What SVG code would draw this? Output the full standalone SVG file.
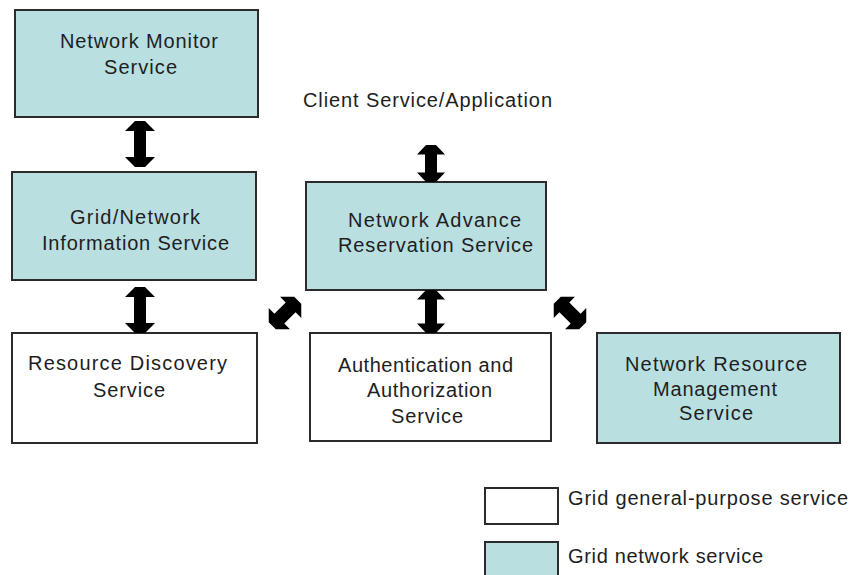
<svg xmlns="http://www.w3.org/2000/svg" width="855" height="575" viewBox="0 0 855 575">
  <defs>
    <style>
      .box { stroke: #2b2b2b; stroke-width: 2; }
      .net { fill: #b9dfe1; }
      .gen { fill: #ffffff; }
      text { font-family: "Liberation Sans", Arial, sans-serif; font-size: 20px; fill: #1e1e1e; }
      .c { text-anchor: middle; }
      .arrow { fill: #000000; }
    </style>
  </defs>
  <rect width="855" height="575" fill="#ffffff"/>

  <!-- Nodes -->
  <g id="network-monitor">
    <rect class="box net" x="15" y="10" width="243" height="107"/>
    <text class="c" x="139" y="48" textLength="158" lengthAdjust="spacing">Network Monitor</text>
    <text class="c" x="140.5" y="74" textLength="73" lengthAdjust="spacing">Service</text>
  </g>

  <g id="grid-network-information">
    <rect class="box net" x="12" y="172" width="244" height="108"/>
    <text class="c" x="135" y="224" textLength="130" lengthAdjust="spacing">Grid/Network</text>
    <text class="c" x="135.5" y="250" textLength="187" lengthAdjust="spacing">Information Service</text>
  </g>

  <g id="client">
    <text class="c" x="427.5" y="107" textLength="249" lengthAdjust="spacing">Client Service/Application</text>
  </g>

  <g id="network-advance-reservation">
    <rect class="box net" x="306" y="182" width="240" height="108"/>
    <text class="c" x="434.5" y="227" textLength="173" lengthAdjust="spacing">Network Advance</text>
    <text class="c" x="435.5" y="252" textLength="195" lengthAdjust="spacing">Reservation Service</text>
  </g>

  <g id="resource-discovery">
    <rect class="box gen" x="12" y="333" width="245" height="110"/>
    <text class="c" x="127.5" y="370" textLength="199" lengthAdjust="spacing">Resource Discovery</text>
    <text class="c" x="129" y="397" textLength="72" lengthAdjust="spacing">Service</text>
  </g>

  <g id="authentication-authorization">
    <rect class="box gen" x="310" y="333" width="241" height="108"/>
    <text class="c" x="425.5" y="372" textLength="175" lengthAdjust="spacing">Authentication and</text>
    <text class="c" x="429.5" y="397" textLength="125" lengthAdjust="spacing">Authorization</text>
    <text class="c" x="427" y="423" textLength="72" lengthAdjust="spacing">Service</text>
  </g>

  <g id="network-resource-management">
    <rect class="box net" x="597" y="333" width="243" height="110"/>
    <text class="c" x="716" y="371" textLength="182" lengthAdjust="spacing">Network Resource</text>
    <text class="c" x="715" y="396" textLength="124" lengthAdjust="spacing">Management</text>
    <text class="c" x="716" y="420" textLength="74" lengthAdjust="spacing">Service</text>
  </g>

  <!-- Legend -->
  <g id="legend">
    <rect class="box gen" x="485" y="488" width="73" height="36"/>
    <text x="568" y="505" textLength="280" lengthAdjust="spacing">Grid general-purpose service</text>
    <rect class="box net" x="485" y="542" width="73" height="42"/>
    <text x="568" y="563" textLength="195" lengthAdjust="spacing">Grid network service</text>
  </g>

  <!-- Connectors: block double arrows -->
  <g id="connectors">
    <!-- monitor <-> information -->
    <polygon class="arrow" transform="translate(140,144)" points="-5,-23 5,-23 15,-13 6,-13 6,13 15,13 5,23 -5,23 -15,13 -6,13 -6,-13 -15,-13"/>
    <!-- information <-> resource discovery -->
    <polygon class="arrow" transform="translate(140,310)" points="-5,-23 5,-23 15,-13 6,-13 6,13 15,13 5,23 -5,23 -15,13 -6,13 -6,-13 -15,-13"/>
    <!-- client <-> reservation -->
    <polygon class="arrow" transform="translate(431,163.5)" points="-5,-18.5 5,-18.5 14,-9 6,-9 6,9 14,9 5,18.5 -5,18.5 -14,9 -6,9 -6,-9 -14,-9"/>
    <!-- reservation <-> authentication -->
    <polygon class="arrow" transform="translate(431,311.5)" points="-5,-21.5 5,-21.5 14,-12 6,-12 6,12 14,12 5,21.5 -5,21.5 -14,12 -6,12 -6,-12 -14,-12"/>
    <!-- reservation <-> resource discovery -->
    <polygon class="arrow" transform="translate(285,313) rotate(45)" points="-5,-18 5,-18 15,-8 7,-8 7,8 15,8 5,18 -5,18 -15,8 -7,8 -7,-8 -15,-8"/>
    <!-- reservation <-> resource management -->
    <polygon class="arrow" transform="translate(570,313) rotate(-45)" points="-5,-18 5,-18 15,-8 7,-8 7,8 15,8 5,18 -5,18 -15,8 -7,8 -7,-8 -15,-8"/>
  </g>
</svg>
